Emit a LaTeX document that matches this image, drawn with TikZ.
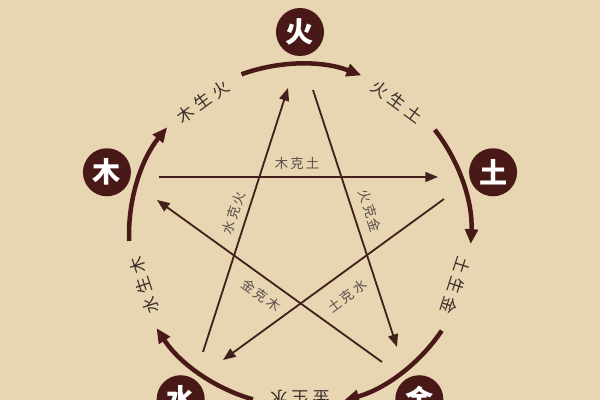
\documentclass[tikz,border=0pt]{standalone}
\usepackage{fontspec}
\usetikzlibrary{arrows.meta}
\newfontfamily\cjk{Noto Sans CJK SC}
\definecolor{paper}{RGB}{232,214,178}
\definecolor{elemcol}{RGB}{72,25,22}
\definecolor{linecol}{RGB}{66,32,28}
\definecolor{textcol}{RGB}{58,46,42}
\newcommand{\sanzi}[3]{#1\kern3pt#2\kern3pt#3}

\begin{document}
\begin{tikzpicture}[x=0.025cm, y=0.025cm,
	element/.style={circle, fill=elemcol, text=white, minimum size=1.2cm, inner sep=0pt,
		font=\cjk\bfseries\fontsize{20}{20}\selectfont},
	sheng/.style={line width=3.2pt, draw=elemcol, -{Triangle[length=10.5pt, width=9pt]}},
	ke/.style={line width=1.3pt, draw=linecol, -{Triangle[length=9pt, width=7pt]}},
	shenglabel/.style={text=textcol, inner sep=0pt, font=\cjk\fontsize{12}{12}\selectfont},
	kelabel/.style={text=textcol!85, inner sep=0pt, font=\cjk\fontsize{9.5}{9.5}\selectfont}]
	\useasboundingbox (-300,-165) rectangle (300,235);
	\fill[paper] (-300,-165) rectangle (300,235);
	\node[element] (huo) at (90:203) {火};
	\node[element] (tu) at (18:203) {土};
	\node[element] (jin) at (-54:203) {金};
	\node[element] (shui) at (-126:203) {水};
	\node[element] (mu) at (162:203) {木};
	\foreach \e in {90,18,-54,-126,162}
		\draw[sheng] (\e+20:171) arc[start angle=\e+20, end angle=\e-21, radius=4.275cm];
	\node[shenglabel, rotate=36] (mushenghuo) at (126:165) {\sanzi{木}{生}{火}};
	\node[shenglabel, rotate=-36] (huoshengtu) at (54:165) {\sanzi{火}{生}{土}};
	\node[shenglabel, rotate=-108] (tushengjin) at (-18:164) {\sanzi{土}{生}{金}};
	\node[shenglabel, rotate=180] (jinshengshui) at (-90:163) {\sanzi{金}{生}{水}};
	\node[shenglabel, rotate=108] (shuishengmu) at (-162:164) {\sanzi{水}{生}{木}};
	\coordinate (mu-out) at (-141,58);
	\coordinate (mu-in) at (-143,35);
	\coordinate (tu-in) at (138,58);
	\coordinate (tu-out) at (144,36);
	\coordinate (shui-in) at (-77,-125);
	\coordinate (shui-out) at (-97,-117);
	\coordinate (huo-in) at (-12,147);
	\coordinate (huo-out) at (13,145);
	\coordinate (jin-in) at (97,-112);
	\coordinate (jin-out) at (82,-127);
	\draw[ke] (mu-out) -- (tu-in);
	\draw[ke] (tu-out) -- (shui-in);
	\draw[ke] (shui-out) -- (huo-in);
	\draw[ke] (huo-out) -- (jin-in);
	\draw[ke] (jin-out) -- (mu-in);
	\node[kelabel] (muketu) at (-3,72) {木\kern1.5pt 克\kern1.5pt 土};
	\node[kelabel, rotate=72] (shuikehuo) at (-66,22) {水\kern1.5pt 克\kern1.5pt 火};
	\node[kelabel, rotate=-72] (huokejin) at (70,24) {火\kern1.5pt 克\kern1.5pt 金};
	\node[kelabel, rotate=-36] (jinkemu) at (-39,-60) {金\kern1.5pt 克\kern1.5pt 木};
	\node[kelabel, rotate=36] (tukeshui) at (47,-61) {土\kern1.5pt 克\kern1.5pt 水};
\end{tikzpicture}
\end{document}
